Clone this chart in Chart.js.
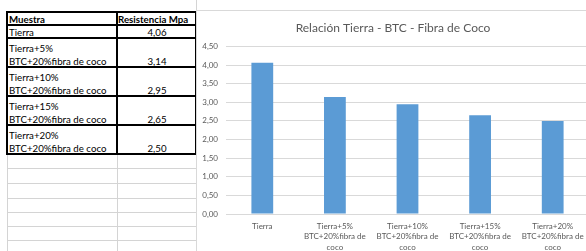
<!DOCTYPE html>
<html>
<head>
<meta charset="utf-8">
<script src="https://cdn.jsdelivr.net/npm/chart.js@4.4.1/dist/chart.umd.min.js"></script>
<style>
  html, body { margin:0; padding:0; width:586px; height:251px; overflow:hidden; background:#fff; }
  body { position:relative; font-family: Lato, "Open Sans", sans-serif; }
  .ln { position:absolute; }
  .t { position:absolute; font-size:9.7px; color:#000; white-space:nowrap; line-height:14px; }
  #wrap { position:absolute; left:196px; top:10px; width:402px; height:250px; border-left:1px solid #D9D9D9; border-top:1px solid #D9D9D9; box-sizing:border-box; background:#fff; }
  #wrap canvas { position:absolute; left:0; top:0; }
</style>
</head>
<body>
<div id="sheet"></div>
<div id="wrap"><canvas id="c" width="401" height="249"></canvas></div>
<script>
// ---- data ----
const tableHeader = ["Muestra", "Resistencia Mpa"];
const tableRows = [
  ["Tierra"],
  ["Tierra+5%", "BTC+20%fibra de coco"],
  ["Tierra+10%", "BTC+20%fibra de coco"],
  ["Tierra+15%", "BTC+20%fibra de coco"],
  ["Tierra+20%", "BTC+20%fibra de coco"]
];
const tableValues = ["4,06", "3,14", "2,95", "2,65", "2,50"];

const categories = [
  ["Tierra"],
  ["Tierra+5%", "BTC+20%fibra de", "coco"],
  ["Tierra+10%", "BTC+20%fibra de", "coco"],
  ["Tierra+15%", "BTC+20%fibra de", "coco"],
  ["Tierra+20%", "BTC+20%fibra de", "coco"]
];
const resistencia = [4.06, 3.14, 2.95, 2.65, 2.50];
const yTickLabels = ["0,00","0,50","1,00","1,50","2,00","2,50","3,00","3,50","4,00","4,50"];
const chartTitle = "Relación Tierra - BTC - Fibra de Coco";

// ---- spreadsheet table ----
const sheet = document.getElementById('sheet');
function line(x, y, w, h, color) {
  const d = document.createElement('div');
  d.className = 'ln';
  d.style.left = x + 'px'; d.style.top = y + 'px';
  d.style.width = w + 'px'; d.style.height = h + 'px';
  d.style.background = color;
  sheet.appendChild(d);
}
function text(s, x, y, opts) {
  const d = document.createElement('div');
  d.className = 't';
  d.textContent = s;
  d.style.top = (y - 7) + 'px';
  if (opts && opts.center) {
    d.style.left = (x - 40) + 'px'; d.style.width = '80px'; d.style.textAlign = 'center';
  } else {
    d.style.left = x + 'px';
  }
  if (opts && opts.bold) d.style.fontWeight = 'bold';
  sheet.appendChild(d);
}
const X0 = 7, X1 = 117, X2 = 196;
// light gray grid rows below the table
const grayRows = [168, 183, 198, 212, 226, 240];
grayRows.forEach(y => line(X0, y, X2 - X0, 1, '#D4D4D4'));
line(X0, 154, 1, 100, '#D4D4D4');
line(X1, 154, 1, 100, '#D4D4D4');
line(X2, 0, 1, 12, '#D4D4D4');
// table borders
const rowY = [12, 25, 38, 67, 96, 125, 154];
rowY.forEach(y => line(X0, y - 1, X2 - X0 + 1, 2, '#000'));
line(X0 - 1, 11, 2, 154 - 11 + 1, '#000');
line(X1 - 1, 11, 2, 154 - 11 + 1, '#000');
line(X2 - 1, 11, 2, 154 - 11 + 1, '#000');
// header texts
text(tableHeader[0], 9, 19, {bold:true});
text(tableHeader[1], 118, 19, {bold:true});
// rows
text(tableRows[0][0], 9, 32);
text(tableValues[0], 157, 32, {center:true});
for (let i = 1; i < tableRows.length; i++) {
  const top = rowY[i + 1];
  text(tableRows[i][0], 9, top + 9.5);
  text(tableRows[i][1], 9, top + 23);
  text(tableValues[i], 157, top + 23, {center:true});
}

// ---- chart ----
const grey = '#595959';
new Chart(document.getElementById('c'), {
  type: 'bar',
  data: {
    labels: categories,
    datasets: [{
      data: resistencia,
      backgroundColor: '#5B9BD5',
      borderWidth: 0,
      categoryPercentage: 1.0,
      barPercentage: 0.3
    }]
  },
  options: {
    responsive: false,
    animation: false,
    layout: { padding: { left: 0, right: 9, top: 0, bottom: 0 } },
    plugins: {
      legend: { display: false },
      tooltip: { enabled: false },
      title: {
        display: true,
        text: chartTitle,
        color: grey,
        font: { family: 'Lato', size: 12, weight: 'normal', lineHeight: 1.2 },
        padding: { top: 10, bottom: 11 }
      }
    },
    scales: {
      x: {
        grid: { display: false, drawTicks: false },
        border: { display: false },
        ticks: {
          color: grey,
          font: { family: 'Lato', size: 8, lineHeight: 1.3 },
          padding: 7,
          maxRotation: 0,
          autoSkip: false
        },
        afterFit: s => { s.height = 46; }
      },
      y: {
        min: 0, max: 4.5,
        grid: { color: '#D9D9D9', drawTicks: false, lineWidth: 1 },
        border: { display: false },
        ticks: {
          stepSize: 0.5,
          color: grey,
          font: { family: 'Lato', size: 8 },
          padding: 8,
          callback: (v, i) => yTickLabels[i]
        },
        afterFit: s => { s.width = 29; }
      }
    }
  }
});
</script>
</body>
</html>
